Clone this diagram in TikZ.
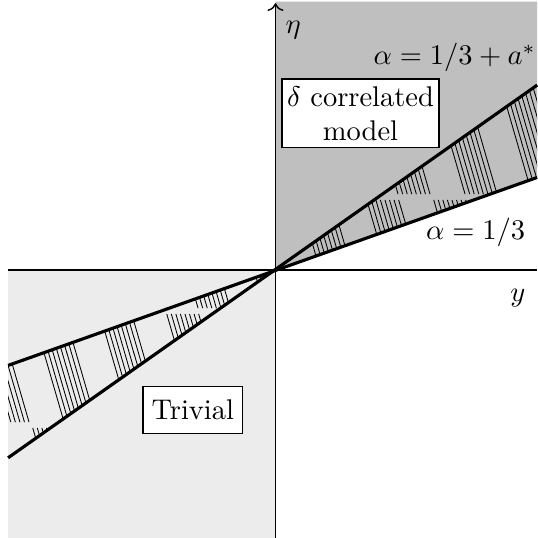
\documentclass[tikz,border=0pt]{standalone}
\usepackage{amsmath,amssymb}
\usepackage{tikz}
\usetikzlibrary{positioning,arrows.meta,patterns}
\definecolor{darkq}{gray}{0.75}
\definecolor{lightq}{gray}{0.925}
\pgfdeclarepatternformonly{steephatch}{\pgfqpoint{0pt}{0pt}}{\pgfqpoint{23.5pt}{40pt}}{\pgfqpoint{23.5pt}{40pt}}{
  \pgfsetlinewidth{0.3pt}
  \foreach \i in {0,...,7}{
    \foreach \s in {0pt,-23.5pt}{
      \pgfpathmoveto{\pgfpoint{11.5pt+\s+\i*1.6pt}{39pt}}
      \pgfpathlineto{\pgfpoint{22.5pt+\s+\i*1.6pt}{1pt}}
    }
  }
  \pgfusepath{stroke}
}
\tikzset{
  regbox/.style={rectangle, draw=black, fill=white, text=black, align=center,
                 inner xsep=3pt, inner ysep=2.5pt, line width=0.5pt},
  axlbl/.style={inner sep=1pt, text=black},
  bnd/.style={line width=1.1pt},
  ax/.style={line width=0.5pt},
}

\begin{document}
\begin{tikzpicture}[>=To]
\useasboundingbox (-3.40,-3.31) rectangle (3.23,3.33);
\coordinate (o) at (0,0);
\coordinate (ua) at (3.23,2.28);
\coordinate (ub) at (3.23,1.14);
\coordinate (la) at (-3.30,-2.32);
\coordinate (lb) at (-3.30,-1.18);
% shaded quadrants
\fill[darkq] (o) -- (ub) -- (3.23,3.31) -- (0,3.31) -- cycle;
\fill[lightq] (-3.30,-3.31) rectangle (o);
% hatched wedges
\fill[pattern=steephatch] (o) -- (ua) -- (ub) -- cycle;
\fill[pattern=steephatch] (o) -- (la) -- (lb) -- cycle;
% axes
\coordinate (xl) at (-3.30,0);
\coordinate (xr) at (3.23,0);
\coordinate (yb) at (0,-3.31);
\coordinate (yt) at (0,3.29);
\draw[ax] (xl) -- (xr);
\draw[ax,->] (yb) -- (yt);
% boundary lines
\draw[bnd] (la) -- (ua);
\draw[bnd] (lb) -- (ub);
\node[axlbl] (eta) at (0.22,2.96) {$\eta$};
\node[axlbl] (ylbl) at (2.99,-0.35) {$y$};
\node[axlbl, anchor=west] (alo) at (1.17,2.62) {$\alpha=1/3+a^*$};
\node[axlbl] (ala) at (2.47,0.46) {$\alpha=1/3$};
\node[regbox, inner xsep=1.8pt] (corr) at (1.05,1.93) {$\delta$ correlated\\model};
\node[regbox, minimum height=0.58cm] (triv) at (-1.02,-1.73) {Trivial};
\end{tikzpicture}
\end{document}
